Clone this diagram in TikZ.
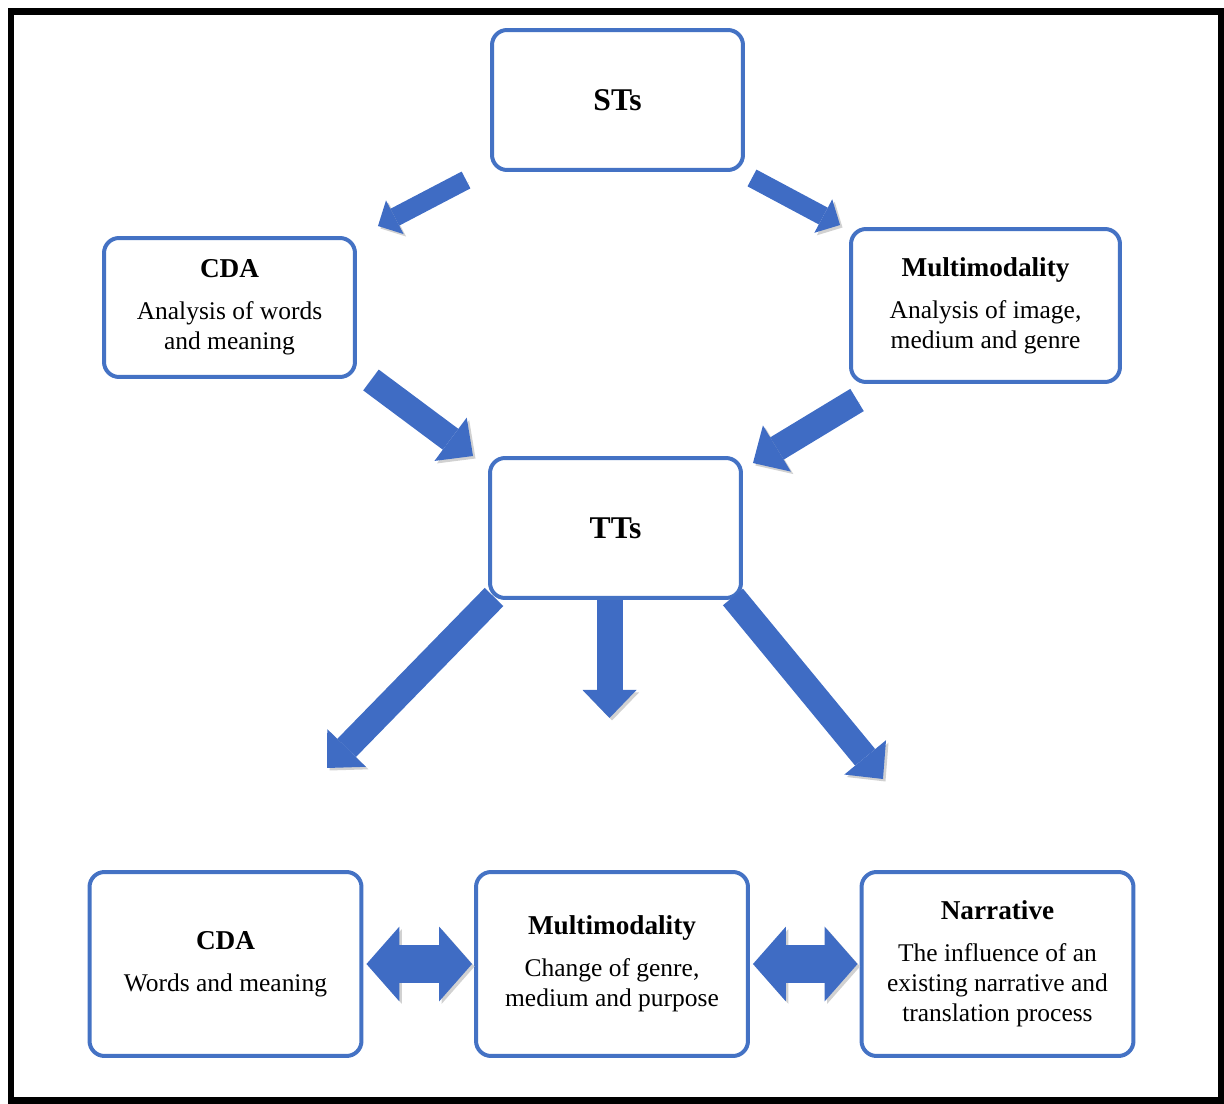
\documentclass[tikz,border=0pt]{standalone}
\usepackage{fontspec}
\setmainfont{Liberation Serif}
\usetikzlibrary{arrows.meta,positioning,calc}

\definecolor{boxblue}{RGB}{68,114,196}
\definecolor{arrowblue}{RGB}{63,108,196}
\newcommand{\boxhead}[1]{{\bfseries\fontsize{15.5}{17}\selectfont #1}}

\begin{document}
\begin{tikzpicture}[
    x=0.02cm, y=-0.02cm,
    stage/.style={draw=boxblue, line width=0.08cm, rounded corners=0.3cm, fill=white,
        align=center, inner sep=0pt, font=\fontsize{14.5}{17}\selectfont},
    source/.style={stage, minimum width=5.02cm, minimum height=2.8cm,
        font=\bfseries\fontsize{18}{20}\selectfont},
    result/.style={stage, minimum width=5.44cm, minimum height=3.68cm},
    flow/.style={draw=arrowblue,
        preaction={draw=black!18, transform canvas={shift={(0.05cm,-0.05cm)}}}},
    thinflow/.style={flow, line width=0.38cm,
        -{Triangle[length=0.38cm, width=0.76cm, line width=0pt]}},
    thickflow/.style={flow, line width=0.52cm,
        -{Triangle[length=0.56cm, width=1.08cm, line width=0pt]}},
    twoway/.style={flow, line width=0.76cm, shorten <=0.06cm, shorten >=0.04cm,
        {Triangle[length=0.66cm, width=1.5cm, line width=0pt]}-{Triangle[length=0.66cm, width=1.5cm, line width=0pt]}}
]
\useasboundingbox (0,0) rectangle (1224,1104);
\draw[line width=0.14cm] (11,12) rectangle (1221,1100);

% top part
\node[source] (STs) at (617.5,100) {STs};
\node[stage, minimum width=5.02cm, minimum height=2.78cm] (CDA1) at (229.5,307.5)
    {\boxhead{CDA}\\[7pt]Analysis of words\\and meaning};
\node[stage, minimum width=5.38cm, minimum height=3.06cm] (MM1) at (985.5,305.5)
    {\boxhead{Multimodality}\\[7pt]Analysis of image,\\medium and genre};
\node[source] (TTs) at (615.5,528) {TTs};

% bottom row
\node[result] (CDA2) at (225.5,964) {\boxhead{CDA}\\[7pt]Words and meaning};
\node[result] (MM2) at (612,964)
    {\boxhead{Multimodality}\\[7pt]Change of genre,\\medium and purpose};
\node[result] (NAR) at (997.5,964)
    {\boxhead{Narrative}\\[7pt]The influence of an\\existing narrative and\\translation process};

% arrows
\draw[thinflow] ($(STs.south west)+(-24,8)$) -- ($(CDA1.north east)+(21,-10)$);
\draw[thinflow] ($(STs.south east)+(7,6)$) -- ($(MM1.north west)+(-9,-2)$);
\draw[thickflow] ($(CDA1.south east)+(14,1)$) -- ($(TTs.north west)+(-15,0)$);
\draw[thickflow] ($(MM1.south west)+(8,16)$) -- ($(TTs.north east)+(10,7)$);
\draw[thickflow] ($(TTs.south west)+(6,-3)$) -- ($(TTs.south west)+(-161,168)$);
\draw[thickflow] ($(TTs.south)+(-6,0)$) -- ($(TTs.south)+(-6,118)$);
\draw[thickflow] ($(TTs.south east)+(-10,-3)$) -- ($(TTs.south east)+(140,179)$);
\draw[twoway] (CDA2.east) -- (MM2.west);
\draw[twoway] (MM2.east) -- (NAR.west);

\end{tikzpicture}
\end{document}
